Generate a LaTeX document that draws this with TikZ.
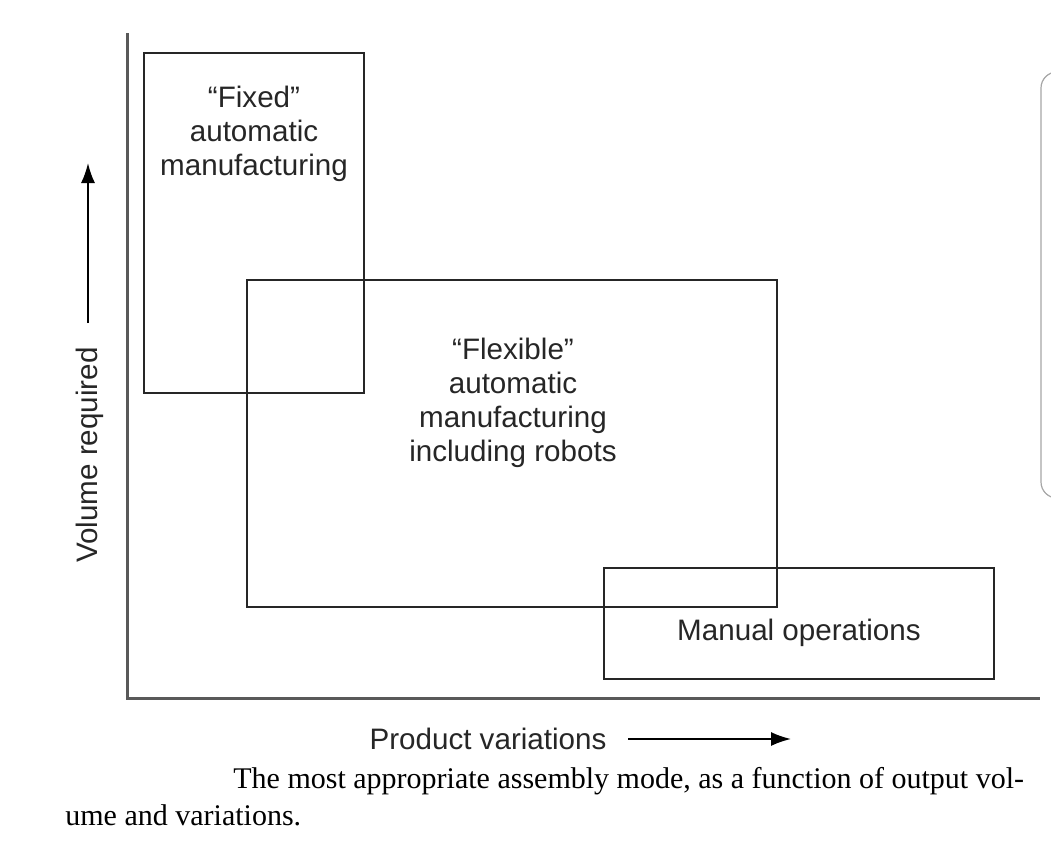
\documentclass[tikz,border=0pt]{standalone}
\usepackage{fontspec}
\setmainfont{Liberation Sans}
\newfontfamily\capfont{Liberation Serif}
\usepackage{tikz}
\usetikzlibrary{arrows.meta}

\tikzset{
  region/.style={draw=black!85, line width=1pt},
  lbl/.style={align=center, inner sep=0pt, text=black!85, font=\fontsize{14.8}{17}\selectfont},
  axis/.style={draw=black!65, line width=1.5pt},
  dirarrow/.style={line width=0.9pt, -{Latex[length=10pt, width=7pt]}},
  caption/.style={anchor=west, inner sep=0pt, font=\capfont\fontsize{15}{18}\selectfont},
}

\begin{document}
\begin{tikzpicture}[x=0.5pt, y=-0.5pt]
\clip (0,0) rectangle (1051,863);
\useasboundingbox (0,0) rectangle (1051,863);

% Axes
\coordinate (o) at (127,698);
\coordinate (ytop) at (127,33);
\coordinate (xend) at (1040,698);
\draw[axis] (ytop) -- (o) -- (xend);

% Regions
\draw[region] (144,53) rectangle (364,393);
\draw[region] (247,280) rectangle (777,607);
\draw[region] (604,568) rectangle (994,679);

\node[lbl] (fixed) at (254,134) {``Fixed''\\automatic\\manufacturing};
\node[lbl] (flex) at (513,403) {``Flexible''\\automatic\\manufacturing\\including robots};
\node[lbl] (manual) at (799,633) {Manual operations};

% Volume
\node[lbl, rotate=90] (vol) at (90,455) {Volume required};
\coordinate (va) at (88,323);
\coordinate (vb) at (88,163);
\draw[dirarrow] (va) -- (vb);

% Variations
\node[lbl] (var) at (488,739) {Product variations};
\coordinate (pa) at (628,739);
\coordinate (pb) at (791,739);
\draw[dirarrow] (pa) -- (pb);

% Caption
\node[caption] (cap1) at (233,781)
  {The most appropriate assembly mode, as a function of output vol-};
\node[caption] (cap2) at (65,815) {ume and variations.};

% side panel
\draw[black!35, line width=0.6pt, rounded corners=8] (1060,498) -- (1041,498) -- (1041,72) -- (1060,72);
\end{tikzpicture}
\end{document}
